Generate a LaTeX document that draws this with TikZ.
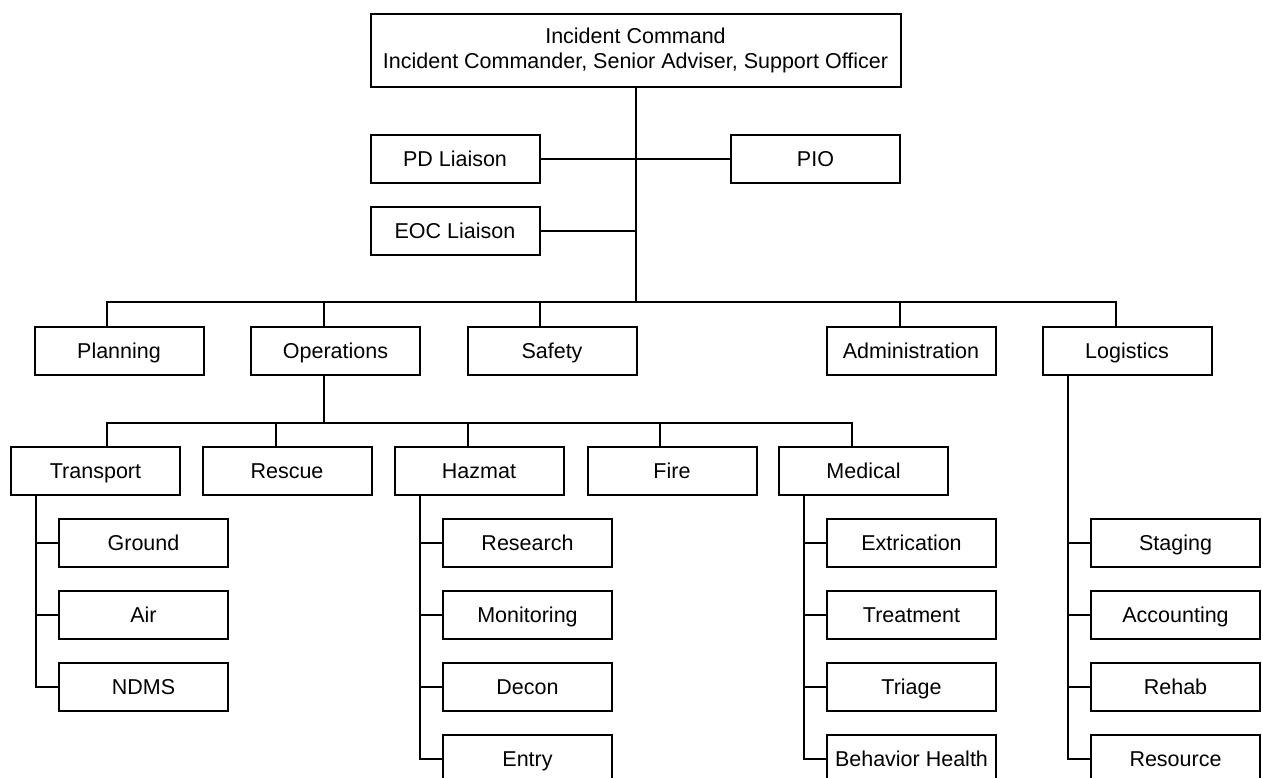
\documentclass[tikz,border=0pt]{standalone}
\usepackage{fontspec}
\setmainfont{Liberation Sans}
\begin{document}
\begin{tikzpicture}[x=1pt,y=-1pt,
  base/.style={draw, line width=2pt, inner sep=0pt, font=\fontsize{21.5}{24.3}\selectfont, align=center},
  box/.style={base, minimum width=169pt, minimum height=48pt, text height=15.4pt, text depth=0pt},
  ln/.style={line width=2pt}]
\useasboundingbox (0,0) rectangle (1263,778);
\clip (0,0) rectangle (1263,778);
% top
\node[base, minimum width=530pt, minimum height=73pt] (ic) at (635.5,50.5) {Incident Command\\Incident Commander, Senior Adviser, Support Officer};
\node[box] (pd) at (455,159) {PD Liaison};
\node[box] (pio) at (815.5,159) {PIO};
\node[box] (eoc) at (455,231) {EOC Liaison};
\coordinate (m) at (635.5,302);
\draw[ln] (ic.south) -- (m);
\draw[ln] (pd.east) -- (pio.west);
\draw[ln] (eoc.east) -- (eoc.east -| m);
% level 1
\node[box] (plan) at (119,351) {Planning};
\node[box] (ops) at (335.5,351) {Operations};
\node[box] (safe) at (552,351) {Safety};
\node[box] (admin) at (911,351) {Administration};
\node[box] (logi) at (1127,351) {Logistics};
\coordinate (c1) at (107,302);
\coordinate (c2) at (324,302);
\coordinate (c3) at (540,302);
\coordinate (c4) at (900,302);
\coordinate (c5) at (1116,302);
\draw[ln] (c1 |- plan.north) -- (c1) -- (c5) -- (c5 |- logi.north);
\draw[ln] (c2) -- (c2 |- ops.north);
\draw[ln] (c3) -- (c3 |- safe.north);
\draw[ln] (c4) -- (c4 |- admin.north);
% level 2
\node[box] (trans) at (95.5,470.5) {Transport};
\node[box] (resc) at (287,470.5) {Rescue};
\node[box] (haz) at (479,470.5) {Hazmat};
\node[box] (fire) at (672,470.5) {Fire};
\node[box] (med) at (863.5,470.5) {Medical};
\coordinate (d1) at (107,423);
\coordinate (d2) at (275.5,423);
\coordinate (d3) at (467.5,423);
\coordinate (d4) at (660,423);
\coordinate (d5) at (852,423);
\draw[ln] (ops.south -| c2) -- (c2 |- d1);
\draw[ln] (d1 |- trans.north) -- (d1) -- (d5) -- (d5 |- med.north);
\draw[ln] (d2) -- (d2 |- resc.north);
\draw[ln] (d3) -- (d3 |- haz.north);
\draw[ln] (d4) -- (d4 |- fire.north);
% level 3 - transport
\node[box] (ground) at (143.5,543) {Ground};
\node[box] (air) at (143.5,615) {Air};
\node[box] (ndms) at (143.5,687) {NDMS};
\coordinate (tv) at (35.5,495);
\draw[ln] (trans.south -| tv) -- (tv |- ndms.west) -- (ndms.west);
\draw[ln] (tv |- ground.west) -- (ground.west);
\draw[ln] (tv |- air.west) -- (air.west);
% hazmat
\node[box] (research) at (527.5,543) {Research};
\node[box] (monit) at (527.5,615) {Monitoring};
\node[box] (decon) at (527.5,687) {Decon};
\node[box] (entry) at (527.5,759) {Entry};
\coordinate (hv) at (419.5,495);
\draw[ln] (haz.south -| hv) -- (hv |- entry.west) -- (entry.west);
\draw[ln] (hv |- research.west) -- (research.west);
\draw[ln] (hv |- monit.west) -- (monit.west);
\draw[ln] (hv |- decon.west) -- (decon.west);
% medical
\node[box] (extr) at (911.5,543) {Extrication};
\node[box] (treat) at (911.5,615) {Treatment};
\node[box] (triage) at (911.5,687) {Triage};
\node[box] (behav) at (911.5,759) {Behavior Health};
\coordinate (mv) at (803.5,495);
\draw[ln] (med.south -| mv) -- (mv |- behav.west) -- (behav.west);
\draw[ln] (mv |- extr.west) -- (extr.west);
\draw[ln] (mv |- treat.west) -- (treat.west);
\draw[ln] (mv |- triage.west) -- (triage.west);
% logistics
\node[box] (stag) at (1175.5,543) {Staging};
\node[box] (acct) at (1175.5,615) {Accounting};
\node[box] (rehab) at (1175.5,687) {Rehab};
\node[box] (resrc) at (1175.5,759) {Resource};
\coordinate (lv) at (1068,375);
\draw[ln] (logi.south -| lv) -- (lv |- resrc.west) -- (resrc.west);
\draw[ln] (lv |- stag.west) -- (stag.west);
\draw[ln] (lv |- acct.west) -- (acct.west);
\draw[ln] (lv |- rehab.west) -- (rehab.west);
\end{tikzpicture}
\end{document}
